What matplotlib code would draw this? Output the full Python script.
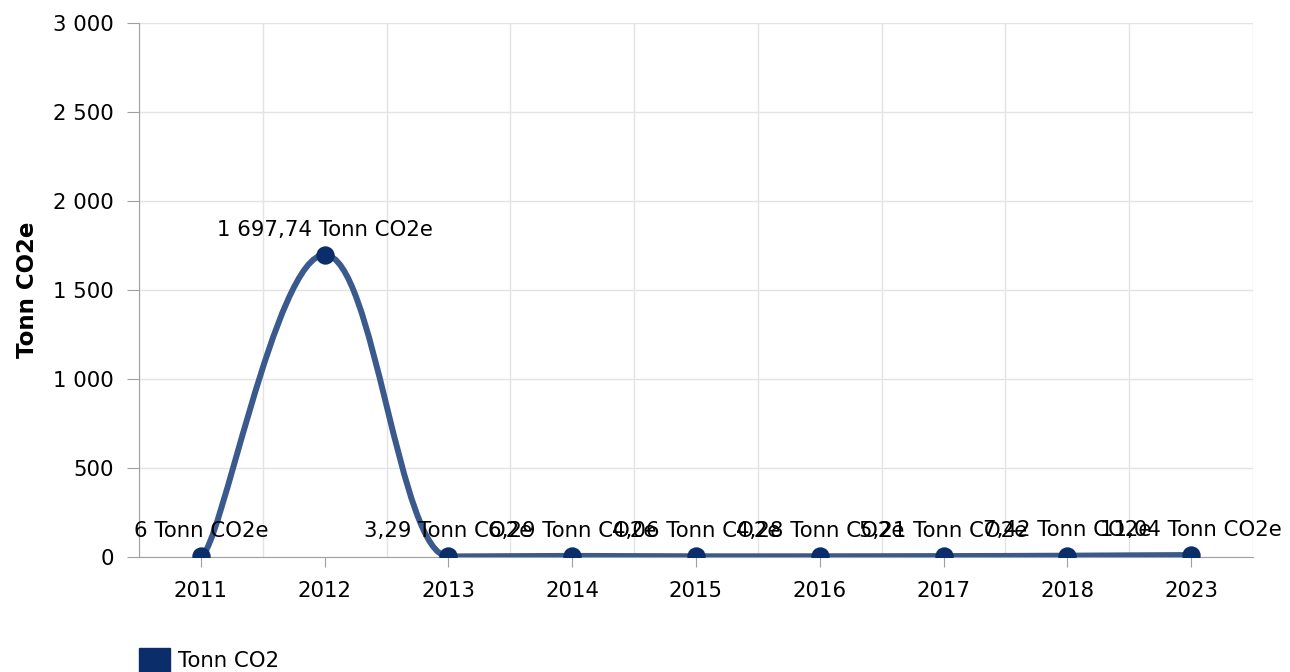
import numpy as np
import matplotlib.pyplot as plt
from matplotlib.path import Path
from matplotlib.patches import PathPatch, Patch

years = ['2011', '2012', '2013', '2014', '2015', '2016', '2017', '2018', '2023']
values = [6, 1697.74, 3.29, 6.29, 4.06, 4.28, 5.21, 7.42, 11.04]
labels = ['6', '1 697,74', '3,29', '6,29', '4,06', '4,28', '5,21', '7,42', '11,04']
yticks = [0, 500, 1000, 1500, 2000, 2500, 3000]
ytick_labels = ['0', '500', '1 000', '1 500', '2 000', '2 500', '3 000']

line_col = '#3a5a8d'
dot_col = '#0b2e6b'
grid_col = '#e3e3e3'
axis_col = '#a0a0a0'
fs = 15.3


# smooth spline, control points a la highcharts (short flat handle at the ends)
def spline_path(xs, ys, smoothing=1.5, end_handle=0.15):
    n = len(xs)
    denom = smoothing + 1
    left = [(xs[i], ys[i]) for i in range(n)]
    right = [(xs[i], ys[i]) for i in range(n)]
    right[0] = (xs[0] + end_handle * (xs[1] - xs[0]), ys[0])
    left[-1] = (xs[-1] - end_handle * (xs[-1] - xs[-2]), ys[-1])
    for i in range(1, n - 1):
        x, y = xs[i], ys[i]
        lx, ly = xs[i - 1], ys[i - 1]
        nx, ny = xs[i + 1], ys[i + 1]
        lcx = (smoothing * x + lx) / denom
        lcy = (smoothing * y + ly) / denom
        rcx = (smoothing * x + nx) / denom
        rcy = (smoothing * y + ny) / denom
        if rcx != lcx:
            corr = (rcy - lcy) * (rcx - x) / (rcx - lcx) + y - rcy
            lcy += corr
            rcy += corr
        if lcy > ly and lcy > y:
            lcy = max(ly, y)
            rcy = 2 * y - lcy
        elif lcy < ly and lcy < y:
            lcy = min(ly, y)
            rcy = 2 * y - lcy
        if rcy > ny and rcy > y:
            rcy = max(ny, y)
            lcy = 2 * y - rcy
        elif rcy < ny and rcy < y:
            rcy = min(ny, y)
            lcy = 2 * y - rcy
        left[i] = (lcx, lcy)
        right[i] = (rcx, rcy)
    verts = [(xs[0], ys[0])]
    codes = [Path.MOVETO]
    for i in range(1, n):
        verts += [right[i - 1], left[i], (xs[i], ys[i])]
        codes += [Path.CURVE4] * 3
    return Path(verts, codes)


fig = plt.figure(figsize=(12.9, 6.72), dpi=100)
ax = fig.add_axes([139 / 1290, 1 - 557 / 672, 1114 / 1290, 534 / 672])

x = np.arange(len(years))
path = spline_path(list(x), values)
ax.add_patch(PathPatch(path, facecolor='none', edgecolor=line_col, lw=4.3, zorder=3,
                       capstyle='round', joinstyle='round'))
ax.scatter(x, values, s=175, color=dot_col, zorder=4, linewidths=0)

for xi, v, lab in zip(x, values, labels):
    ax.annotate(lab + ' Tonn CO2e', (xi, v), xytext=(0, 11), textcoords='offset points',
                ha='center', va='bottom', fontsize=fs, color='black', zorder=5,
                annotation_clip=False)

ax.set_xlim(-0.5, len(years) - 0.5)
ax.set_ylim(0, 3000)
ax.set_xticks(x)
ax.set_xticklabels(years, fontsize=fs)
ax.set_xticks(np.arange(-0.5, len(years) - 0.4, 1), minor=True)
ax.set_yticks(yticks)
ax.set_yticklabels(ytick_labels, fontsize=fs)
ax.tick_params(axis='x', which='major', length=7, color=axis_col, pad=10)
ax.tick_params(axis='x', which='minor', length=0)
ax.tick_params(axis='y', length=9, color=axis_col, pad=9)
ax.grid(True, axis='y', color=grid_col, lw=1)
ax.grid(True, axis='x', which='minor', color=grid_col, lw=1)
ax.set_axisbelow(True)
for s in ['top', 'right']:
    ax.spines[s].set_visible(False)
ax.spines['left'].set_color(axis_col)
ax.spines['bottom'].set_color(axis_col)
ax.set_ylabel('Tonn CO2e', fontsize=16.5, fontweight='bold', labelpad=10)

fig.legend(handles=[Patch(color=dot_col, label='Tonn CO2')], loc='lower left',
           bbox_to_anchor=(139 / 1290, 0), frameon=False, fontsize=fs,
           borderpad=0, borderaxespad=0, handlelength=1.45, handleheight=1.35,
           handletextpad=0.4)

fig.savefig('out.png', dpi=100)
